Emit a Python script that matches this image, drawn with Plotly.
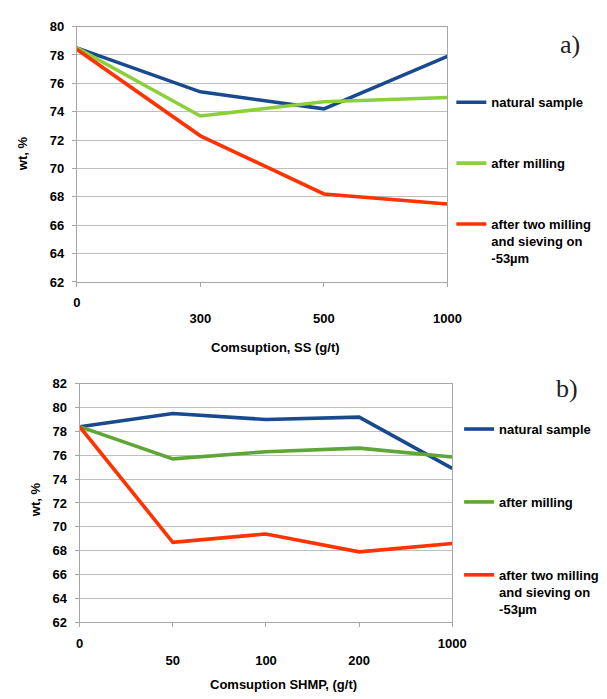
import plotly.graph_objects as go

# ---- data: chart a) ----
cats_a = ["0", "300", "500", "1000"]
natural_a = [78.5, 75.4, 74.2, 77.9]
milling_a = [78.5, 73.7, 74.7, 75.0]
two_mill_a = [78.4, 72.3, 68.2, 67.5]

# ---- data: chart b) ----
cats_b = ["0", "50", "100", "200", "1000"]
natural_b = [78.4, 79.5, 79.0, 79.2, 74.9]
milling_b = [78.4, 75.7, 76.3, 76.6, 75.85]
two_mill_b = [78.4, 68.7, 69.4, 67.9, 68.6]

names = ["natural sample", "after milling", "after two milling<br>and sieving on<br>-53µm"]

# labels drawn on the lower row (Excel staggered category labels)
lowered_a = ["300", "500", "1000"]
lowered_b = ["50", "100", "200"]

BLUE = "#1A4A8E"
GREEN_A = "#8CCF3C"
GREEN_B = "#5EA636"
RED = "#FF3300"
FONT = "Liberation Sans, Arial, sans-serif"

W, H = 607, 699

fig = go.Figure()

def add_series(x, ys, colors, xa, ya, legend):
    for y, c, n in zip(ys, colors, names):
        fig.add_trace(go.Scatter(
            x=x, y=y, mode="lines", name=n,
            line=dict(color=c, width=3.6),
            xaxis=xa, yaxis=ya, legend=legend, legendgroup=legend + n,
        ))

add_series(cats_a, [natural_a, milling_a, two_mill_a], [BLUE, GREEN_A, RED], "x", "y", "legend")
add_series(cats_b, [natural_b, milling_b, two_mill_b], [BLUE, GREEN_B, RED], "x2", "y2", "legend2")

def stagger(cats, lowered):
    return [("<br>" + c) if c in lowered else c for c in cats]

tickfont = dict(family=FONT, size=13, color="#000", weight=700)
axcommon = dict(showline=True, linecolor="#A6A6A6", linewidth=1, mirror=True,
                ticks="outside", ticklen=4, tickcolor="#A6A6A6", tickfont=tickfont,
                zeroline=False)

fig.update_layout(
    width=W, height=H,
    margin=dict(l=0, r=0, t=0, b=0),
    paper_bgcolor="white", plot_bgcolor="white",
    xaxis=dict(**axcommon, type="category", domain=[75 / W, 457 / W], anchor="y",
               range=[0, len(cats_a) - 1], showgrid=False,
               tickmode="array", tickvals=cats_a, ticktext=stagger(cats_a, lowered_a),
               ticklabelstandoff=4),
    yaxis=dict(**axcommon, domain=[1 - 281 / H, 1 - 20 / H], anchor="x",
               range=[62, 80], dtick=2, showgrid=True, gridcolor="#BFBFBF",
               ticklabelstandoff=5),
    xaxis2=dict(**axcommon, type="category", domain=[78 / W, 462 / W], anchor="y2",
                range=[0, len(cats_b) - 1], showgrid=False,
                tickmode="array", tickvals=cats_b, ticktext=stagger(cats_b, lowered_b),
                ticklabelstandoff=5),
    yaxis2=dict(**axcommon, domain=[1 - 628.7 / H, 1 - 385 / H], anchor="x2",
                range=[62, 82], dtick=2, showgrid=True, gridcolor="#BFBFBF",
                ticklabelstandoff=5),
    legend=dict(x=461 / W, y=1 - 82 / H, xanchor="left", yanchor="top",
                font=dict(family=FONT, size=13, color="#000", weight=700),
                tracegroupgap=41, valign="top", bgcolor="rgba(0,0,0,0)"),
    legend2=dict(x=469 / W, y=1 - 416 / H, xanchor="left", yanchor="top",
                 font=dict(family=FONT, size=13, color="#000", weight=700),
                 tracegroupgap=53, valign="top", bgcolor="rgba(0,0,0,0)"),
)

annots = [
    dict(text="Comsuption, SS (g/t)", x=280 / W, y=1 - 348 / H),
    dict(text="Comsuption SHMP, (g/t)", x=288 / W, y=1 - 692 / H),
    dict(text="wt, %", x=19 / W, y=1 - 150 / H, textangle=-90),
    dict(text="wt, %", x=32 / W, y=1 - 504 / H, textangle=-90),
]
for a in annots:
    fig.add_annotation(xref="paper", yref="paper", showarrow=False,
                       xanchor="center", yanchor="middle",
                       font=dict(family=FONT, size=13, color="#000", weight=700), **a)

for t, (x, y) in [("a)", (583, 38)), ("b)", (580, 390))]:
    fig.add_annotation(text=t, xref="paper", yref="paper", x=x / W, y=1 - y / H,
                       showarrow=False, xanchor="center", yanchor="middle",
                       font=dict(family="Liberation Serif, DejaVu Serif, serif", size=26, color="#222"))

post = (
    "document.documentElement.style.margin='0';"
    "document.body.style.margin='0';"
    "document.body.style.overflow='hidden';"
)
fig.write_html("out.html", post_script=post,
               config={"displayModeBar": False, "responsive": False})
